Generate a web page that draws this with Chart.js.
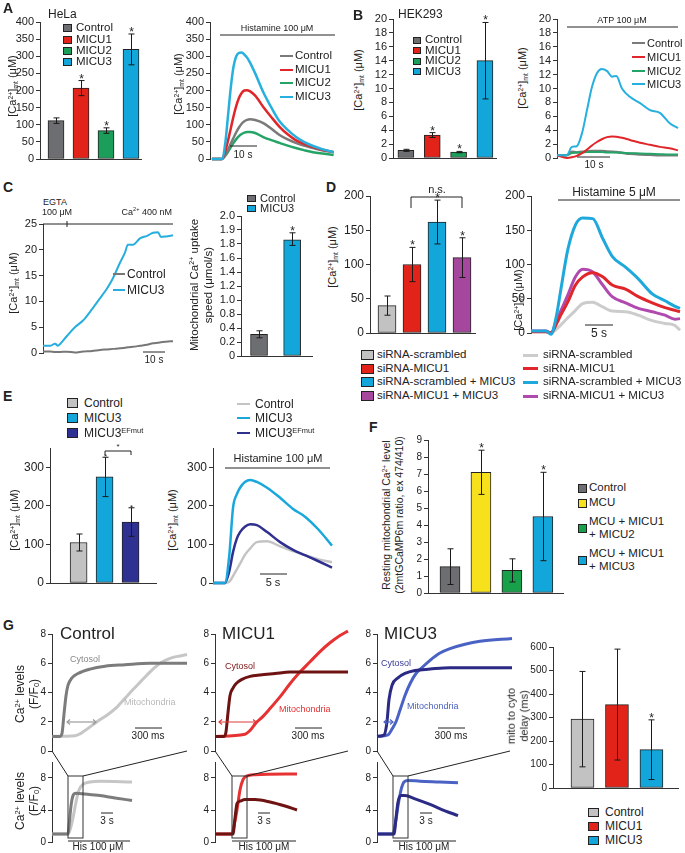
<!DOCTYPE html>
<html>
<head>
<meta charset="utf-8">
<script src="https://cdn.jsdelivr.net/npm/chart.js@4.4.1/dist/chart.umd.min.js"></script>
<style>
html, body { margin: 0; padding: 0; background: #fff; }
#fig { position: relative; width: 685px; height: 853px; overflow: hidden; font-family: 'Liberation Sans', Arial, Helvetica, sans-serif; color: #222; }
#fig canvas { position: absolute; }
.t { position: absolute; white-space: nowrap; line-height: 1; transform: translateY(-50%); }
.c { transform: translate(-50%, -50%); }
.e { transform: translate(-100%, -50%); }
.r { transform: translate(-50%, -50%) rotate(-90deg); text-align: center; line-height: 1.2; }
.L { font-weight: bold; }
.sq { position: absolute; border: 1px solid #222; box-sizing: border-box; }
.ln { position: absolute; }
sup { font-size: 0.62em; vertical-align: 0.55em; line-height: 0; }
sub { font-size: 0.62em; vertical-align: -0.25em; line-height: 0; }
#ann { position: absolute; left: 0; top: 0; z-index: 5; }
</style>
</head>
<body>
<div id="fig"></div>
<script>
// ---------- data ----------
// A  HeLa
const aGroups = ['Control', 'MICU1', 'MICU2', 'MICU3'];
const aPeakMean = [112, 207, 83, 320];
const aPeakErr = [8, 22, 8, 45];
const aStars = [false, true, true, true];
const aTime = [0, 3.7, 5, 6, 7, 8, 9, 10, 11, 12, 13, 14, 16, 19, 22, 25, 28, 31, 34, 37.4, 41, 45];
const aControl = [0, 0, 12, 28, 45, 62, 78, 92, 103, 110, 114, 116, 114, 105, 88, 70, 57, 47, 39, 32, 25, 20];
const aMicu1 = [0, 0, 25, 55, 90, 125, 155, 178, 193, 200, 201, 198, 185, 152, 122, 94, 72, 55, 44, 35, 27, 20];
const aMicu2 = [0, 0, 10, 22, 35, 47, 58, 67, 73, 77, 79, 79, 76, 64, 55, 47, 39, 32, 26, 20, 16, 12];
const aMicu3 = [0, 0, 50, 130, 210, 270, 300, 310, 311, 305, 296, 283, 250, 195, 150, 110, 85, 65, 50, 38, 28, 20];

// B  HEK293
const bGroups = ['Control', 'MICU1', 'MICU2', 'MICU3'];
const bPeakMean = [1.1, 3.3, 0.85, 14];
const bPeakErr = [0.15, 0.35, 0.1, 5.5];
const bStars = [false, true, true, true];
const bTime = [0, 3, 4.5, 6, 7.6, 9.1, 10.6, 12.1, 13.6, 15.2, 16.7, 18, 19.7, 22.1, 25.2, 28.2, 31.2, 34.2, 36.7];
const bControl = [0.4, 0.4, 0.9, 0.8, 0.9, 0.95, 1.0, 1.0, 1.0, 0.95, 0.9, 0.85, 0.75, 0.6, 0.5, 0.45, 0.4, 0.4, 0.4];
const bMicu1 = [0.4, 0.0, 0.1, 0.3, 0.7, 1.2, 1.8, 2.3, 2.7, 3.0, 3.1, 3.05, 2.9, 2.6, 2.2, 1.9, 1.6, 1.4, 1.1];
const bMicu2 = [0.3, 0.4, 0.7, 0.8, 0.8, 0.85, 0.85, 0.85, 0.85, 0.8, 0.8, 0.8, 0.75, 0.7, 0.65, 0.6, 0.55, 0.5, 0.5];
const bMicu3 = [0.4, 0.4, 1.6, 1.7, 3.6, 6.9, 10.2, 12.2, 12.8, 12.5, 11.7, 11.8, 10.0, 8.8, 7.9, 6.9, 6.5, 5.0, 4.3];

// C  permeabilized cells
const cTime = [0, 3.2, 5.5, 6.8, 7.7, 10.9, 14.5, 18.2, 22.3, 25.9, 29.1, 31.8, 35, 37.3, 38.6, 40.9, 44.1, 47.3, 50, 52.3, 53.6, 55.9, 59.1];
const cControl = [0.3, 0.3, 0.2, 0.2, 0.2, 0.25, 0.1, 0.3, 0.4, 0.6, 0.7, 0.8, 0.9, 1.0, 1.1, 1.2, 1.4, 1.6, 1.9, 2.0, 2.1, 2.2, 2.3];
const cMicu3 = [1.4, 1.4, 1.8, 1.4, 1.7, 3.3, 5, 6.3, 8.5, 10.6, 12.5, 14.5, 17.5, 19.5, 21, 21, 22.2, 22.7, 23.3, 23.4, 22.5, 22.6, 22.8];
const cGroups = ['Control', 'MICU3'];
const cSpeedMean = [0.31, 1.83];
const cSpeedErr = [0.05, 0.05];
const cStars = [false, true];
const cSpeedTicks = [0, 0.2, 0.4, 0.8, 1.0, 1.2, 1.4, 1.6, 1.8, 1.9, 2.0];

// D  siRNA
const dGroups = ['siRNA-scrambled', 'siRNA-MICU1', 'siRNA-scrambled + MICU3', 'siRNA-MICU1 + MICU3'];
const dPeakMean = [40, 100, 162, 110];
const dPeakErr = [14, 25, 32, 29];
const dStars = [false, true, true, true];
const dTime = [0, 2.7, 3.6, 4.5, 5.4, 6.6, 8, 9.3, 11.1, 12.9, 14.6, 17, 19.3, 21.8, 24.1, 25.9, 26.8];
const dScrambled = [2, 2, 0, 5, 12, 22, 33, 43, 45, 38, 32, 31, 26, 18, 14, 11, 4];
const dSiMicu1 = [2, 2, 0, 12, 27, 45, 70, 82, 88, 82, 70, 64, 53, 44, 37, 33, 31];
const dScrMicu3 = [3, 3, -2, 22, 65, 121, 158, 168, 167, 138, 112, 96, 79, 57, 47, 39, 36];
const dSiMicu1Micu3 = [3, 3, 0, 16, 33, 55, 82, 93, 89, 70, 53, 44, 36, 31, 26, 20, 21];

// E  EF-hand mutant
const eGroups = ['Control', 'MICU3', 'MICU3<sup>EFmut</sup>'];
const ePeakMean = [105, 275, 158];
const ePeakErr = [22, 51, 37];
const eStars = [false, true, true];
const eTime = [0, 2.2, 3, 3.7, 4.4, 5, 5.9, 6.9, 8.1, 10, 12.4, 14.8, 17, 19.4, 22];
const eControl = [0, 0, 3, 18, 35, 50, 73, 90, 106, 108, 95, 83, 72, 62, 54];
const eMicu3 = [0, 0, 70, 195, 230, 247, 262, 267, 262, 247, 221, 192, 172, 140, 97];
const eEfmut = [0, 0, 30, 80, 115, 132, 146, 152, 150, 132, 106, 86, 72, 57, 40];

// F  resting matrix Ca2+
const fGroups = ['Control', 'MCU', 'MCU + MICU1<br>+ MICU2', 'MCU + MICU1<br>+ MICU3'];
const fRestMean = [1.55, 7.1, 1.33, 4.5];
const fRestErr = [1.05, 1.3, 0.68, 2.6];
const fStars = [false, true, false, true];

// G  cytosol vs mitochondria (top: ms, bottom: s)
const gCtrlCytT = [0, 67, 89, 111, 133, 156, 178, 222, 289, 422, 589, 811, 1089, 1500];
const gCtrlCyt = [1, 1, 1, 1.2, 2.5, 3.8, 4.5, 5, 5.3, 5.6, 5.8, 5.9, 6, 6];
const gCtrlMitT = [0, 256, 367, 500, 622, 722, 811, 900, 978, 1056, 1122, 1200, 1278, 1344, 1422, 1500];
const gCtrlMit = [1, 1.05, 1.4, 2, 2.5, 3, 3.6, 4.2, 4.7, 5.2, 5.6, 6, 6.25, 6.4, 6.5, 6.6];
const gM1CytT = [0, 100, 122, 144, 167, 200, 233, 300, 389, 500, 667, 833, 1478];
const gM1Cyt = [1, 1, 1.3, 2.6, 3.8, 4.3, 4.6, 4.9, 5.1, 5.2, 5.3, 5.4, 5.4];
const gM1MitT = [0, 333, 389, 467, 522, 611, 722, 833, 944, 1056, 1167, 1278, 1389, 1478];
const gM1Mit = [1, 1.15, 1.4, 2, 2.3, 2.9, 3.7, 4.6, 5.4, 6.1, 6.8, 7.4, 7.9, 8.2];
const gM3CytT = [0, 78, 111, 133, 167, 233, 311, 422, 589, 811, 1500];
const gM3Cyt = [1, 1.1, 2, 3.5, 4.5, 5, 5.3, 5.5, 5.6, 5.7, 5.7];
const gM3MitT = [0, 122, 167, 211, 256, 311, 367, 433, 500, 589, 700, 811, 978, 1144, 1500];
const gM3Mit = [1, 1.1, 1.5, 2, 2.8, 3.8, 4.6, 5.3, 5.7, 6.2, 6.7, 7, 7.3, 7.5, 7.7];

const gCtrlLongMitT = [0, 4, 4.5, 5.25, 6, 6.75, 7.75, 9.5, 12, 20];
const gCtrlLongMit = [1, 1, 1.5, 3, 5, 6.5, 7.2, 7.5, 7.6, 7.5];
const gCtrlLongCytT = [0, 4, 4.25, 4.75, 5.25, 6, 8.25, 12, 15.75, 20];
const gCtrlLongCyt = [1, 1, 2, 4.5, 5.8, 6.1, 6, 5.8, 5.5, 5.2];
const gM1LongMitT = [0, 4.25, 4.75, 5.5, 6.25, 7, 7.75, 10, 20.5];
const gM1LongMit = [1, 1, 2, 4, 6.5, 7.8, 8.2, 8.4, 8.5];
const gM1LongCytT = [0, 4.5, 5, 5.5, 6.25, 7.5, 10, 13.75, 17.5, 20.5];
const gM1LongCyt = [1, 1, 3, 4.8, 5.1, 5.3, 5.3, 5, 4.5, 4];
const gM3LongMitT = [0, 4, 4.5, 5.25, 6, 6.75, 7.75, 10.75, 15.75, 20.25];
const gM3LongMit = [1, 1, 2, 4.5, 6.5, 7.5, 7.7, 7.6, 7.5, 7.4];
const gM3LongCytT = [0, 4.25, 4.75, 5.25, 6, 7, 9.5, 13.25, 17, 20.25];
const gM3LongCyt = [1, 1, 3, 5, 5.8, 5.8, 5.4, 4.7, 3.9, 3.3];

const gGroups = ['Control', 'MICU1', 'MICU3'];
const gDelayMean = [293, 355, 163];
const gDelayErr = [203, 236, 127];
const gStars = [false, false, true];

// ---------- colours ----------
const GREY = '#6d6e71', LGREY = '#c2c2c2', RED = '#e2231a', GREEN = '#1b9e5a', CYAN = '#12a6da';
const PURPLE = '#a4479d', NAVY = '#2e3192', YELLOW = '#f6e11c';
const aBarColors = [GREY, RED, GREEN, CYAN];
const aLineColors = ['#7a7a7a', '#e0262a', '#25a468', '#27b0de'];
const dColors = [LGREY, RED, CYAN, PURPLE];
const dLineColors = ['#cccccc', '#e0262a', '#1ea8dc', '#b04aaf'];
const eColors = [LGREY, CYAN, NAVY];
const eLineColors = ['#c4c4c4', '#1aa8dc', '#2e2f8f'];
const fColors = [GREY, YELLOW, '#19a04b', CYAN];
const gColors = [LGREY, RED, CYAN];

// ---------- helpers ----------
const FONT = "'Liberation Sans', Arial, Helvetica, sans-serif";
Chart.defaults.font.family = FONT;
Chart.defaults.color = '#222';
const fig = document.getElementById('fig');

const errorBars = {
    id: 'errorBars',
    afterDatasetsDraw(chart) {
        const ds = chart.data.datasets[0];
        if (!ds || !ds.err) return;
        const ctx = chart.ctx, ys = chart.scales.y, meta = chart.getDatasetMeta(0);
        const f = ds.toAxis || (v => v);
        ctx.save();
        ctx.strokeStyle = '#1a1a1a';
        ctx.lineWidth = 1;
        ctx.fillStyle = '#222';
        ctx.font = (ds.starSize || 12) + 'px ' + FONT;
        ctx.textAlign = 'center';
        meta.data.forEach((bar, i) => {
            const v = ds.means[i], e = ds.err[i];
            const yt = ys.getPixelForValue(f(v + e));
            const yb = ys.getPixelForValue(f(Math.max(v - e, 0)));
            const x = Math.round(bar.x) + 0.5, cap = 3;
            ctx.beginPath();
            ctx.moveTo(x, yb); ctx.lineTo(x, yt);
            ctx.moveTo(x - cap, yt); ctx.lineTo(x + cap, yt);
            ctx.moveTo(x - cap, yb); ctx.lineTo(x + cap, yb);
            ctx.stroke();
            if (ds.stars && ds.stars[i]) ctx.fillText('*', x, yt + 2);
        });
        ctx.restore();
    }
};
Chart.register(errorBars);

function place(g, config) {
    const PT = 10, PB = 10, PR = 4, yw = g.yw || 30;
    const left = g.ax - yw, top = g.top - PT;
    const w = g.right - left + PR, h = g.bottom - top + PB;
    const cv = document.createElement('canvas');
    cv.width = w; cv.height = h;
    cv.style.left = left + 'px';
    cv.style.top = top + 'px';
    fig.appendChild(cv);
    config.options.responsive = false;
    config.options.animation = false;
    config.options.devicePixelRatio = 1;
    config.options.layout = { padding: { top: PT, bottom: PB, right: PR, left: 0 } };
    config.options.plugins = { legend: { display: false }, tooltip: { enabled: false } };
    config.options.scales.y.afterFit = s => { s.width = yw; };
    if (config.options.scales.x.display !== false) config.options.scales.x.afterFit = s => { s.height = 0; };
    return new Chart(cv, config);
}

function yAx(min, max, step, size, keep, label) {
    const ax = {
        type: 'linear', min, max,
        ticks: { stepSize: step, autoSkip: false, font: { size }, color: '#222', padding: 2, callback: label || (v => String(v)) },
        grid: { drawOnChartArea: false, drawTicks: true, tickLength: 4, color: '#333', lineWidth: 1 },
        border: { display: true, color: '#333', width: 1 }
    };
    if (keep) ax.afterBuildTicks = s => { s.ticks = s.ticks.filter(t => keep(t.value)); };
    return ax;
}
function xBar(min, max) {
    return {
        type: 'linear', min, max, offset: false, bounds: 'data',
        ticks: { display: false }, grid: { display: false, drawTicks: false, offset: false },
        border: { display: true, color: '#333', width: 1 }
    };
}
function xLine(min, max) {
    return { type: 'linear', min, max, display: false };
}
function bars(means, err, stars, colors, width, toAxis) {
    const f = toAxis || (v => v);
    return {
        data: means.map((v, i) => ({ x: i, y: f(v) })),
        means, err, stars, toAxis,
        backgroundColor: colors, borderColor: '#222', borderWidth: 1, borderSkipped: false, barThickness: width
    };
}
function trace(t, v, color, w) {
    return {
        data: t.map((x, i) => ({ x, y: v[i] })),
        borderColor: color, borderWidth: w, pointRadius: 0, tension: 0.4,
        cubicInterpolationMode: 'monotone', fill: false, clip: 6
    };
}
function barChart(g, ds, y, xmin, xmax) {
    return place(g, { type: 'bar', data: { datasets: [ds] }, options: { scales: { x: xBar(xmin, xmax), y } } });
}
function lineChart(g, sets, y, xmin, xmax) {
    return place(g, { type: 'line', data: { datasets: sets }, options: { scales: { x: xLine(xmin, xmax), y } } });
}

function text(x, y, html, size, cls, color) {
    const d = document.createElement('div');
    d.className = 't' + (cls ? ' ' + cls : '');
    d.style.left = x + 'px';
    d.style.top = y + 'px';
    d.style.fontSize = size + 'px';
    if (color) d.style.color = color;
    d.innerHTML = html;
    fig.appendChild(d);
}
function boxKey(x, y, w, h, color, label, size, tx) {
    const s = document.createElement('div');
    s.className = 'sq';
    s.style.cssText = `left:${x}px;top:${y - h / 2}px;width:${w}px;height:${h}px;background:${color}`;
    fig.appendChild(s);
    if (label) text(tx, y, label, size);
}
function lineKey(x1, x2, y, color, lw, label, size, tx) {
    const s = document.createElement('div');
    s.className = 'ln';
    s.style.cssText = `left:${x1}px;top:${y - lw / 2}px;width:${x2 - x1}px;height:${lw}px;background:${color}`;
    fig.appendChild(s);
    text(tx, y, label, size);
}
const CAMT = '[Ca<sup>2+</sup>]<sub>mt</sub> (&mu;M)';

// ---------- panel A ----------
barChart({ ax: 40, top: 22, bottom: 159, right: 141, yw: 30 },
    bars(aPeakMean, aPeakErr, aStars, aBarColors, 16), yAx(0, 400, 50, 11), -0.64, 3.4);
lineChart({ ax: 210, top: 22, bottom: 159, right: 335, yw: 30 },
    [trace(aTime, aMicu3, aLineColors[3], 2.5), trace(aTime, aMicu1, aLineColors[1], 2.5),
     trace(aTime, aControl, aLineColors[0], 2.5), trace(aTime, aMicu2, aLineColors[2], 2.5)],
    yAx(0, 400, 50, 11), -0.7, 45.5);

// ---------- panel B ----------
barChart({ ax: 393, top: 19, bottom: 158, right: 496, yw: 26 },
    bars(bPeakMean, bPeakErr, bStars, aBarColors, 16), yAx(0, 20, 2, 11), -0.49, 3.42);
lineChart({ ax: 557, top: 19, bottom: 158, right: 678, yw: 26 },
    [trace(bTime, bMicu3, aLineColors[3], 2), trace(bTime, bMicu1, aLineColors[1], 2),
     trace(bTime, bMicu2, aLineColors[2], 2), trace(bTime, bControl, aLineColors[0], 2.5)],
    yAx(0, 20, 2, 11), 0, 36.7);

// ---------- panel C ----------
lineChart({ ax: 43, top: 224, bottom: 353, right: 173, yw: 26 },
    [trace(cTime, cMicu3, '#27aedc', 2), trace(cTime, cControl, '#777777', 2)],
    yAx(0, 25, 5, 11), 0, 59.1);
// uneven speed axis: labels sit at equal steps
const cToAxis = v => {
    for (let i = 1; i < cSpeedTicks.length; i++) {
        if (v <= cSpeedTicks[i]) return i - 1 + (v - cSpeedTicks[i - 1]) / (cSpeedTicks[i] - cSpeedTicks[i - 1]);
    }
    return cSpeedTicks.length - 1;
};
barChart({ ax: 241, top: 216, bottom: 356, right: 312, yw: 30 },
    bars(cSpeedMean, cSpeedErr, cStars, [GREY, CYAN], 17, cToAxis),
    yAx(0, 10, 1, 11, null, v => cSpeedTicks[v].toFixed(v === 0 ? 0 : 1)), -0.545, 1.6);

// ---------- panel D ----------
barChart({ ax: 370, top: 196, bottom: 333, right: 475, yw: 30 },
    bars(dPeakMean, dPeakErr, dStars, dColors, 18), yAx(0, 200, 50, 12), -0.68, 3.52);
lineChart({ ax: 531, top: 196, bottom: 333, right: 680, yw: 30 },
    [trace(dTime, dScrMicu3, dLineColors[2], 3), trace(dTime, dSiMicu1, dLineColors[1], 3),
     trace(dTime, dSiMicu1Micu3, dLineColors[3], 3), trace(dTime, dScrambled, dLineColors[0], 3)],
    yAx(0, 200, 50, 12), 0, 26.8);

// ---------- panel E ----------
const hundreds = v => v % 100 === 0;
barChart({ ax: 50, top: 448, bottom: 583, right: 156, yw: 30 },
    Object.assign(bars(ePeakMean, ePeakErr, eStars, eColors, 17), { starSize: 8 }), yAx(0, 350, 100, 12, hundreds), -1.1, 2.98);
lineChart({ ax: 213, top: 448, bottom: 583, right: 332, yw: 30 },
    [trace(eTime, eMicu3, eLineColors[1], 2.5), trace(eTime, eEfmut, eLineColors[2], 2.5), trace(eTime, eControl, eLineColors[0], 2.5)],
    yAx(0, 350, 100, 12, hundreds), 0, 22);

// ---------- panel F ----------
barChart({ ax: 428, top: 440, bottom: 593, right: 563, yw: 22 },
    bars(fRestMean, fRestErr, fStars, fColors, 20), yAx(0, 9, 1, 10), -0.71, 3.65);

// ---------- panel G ----------
const gTopY = () => yAx(0, 8, 2, 10);
const gLowY = () => yAx(0, 10, 4, 10, v => v <= 8);
lineChart({ ax: 52, top: 634, bottom: 751, right: 187, yw: 22 },
    [trace(gCtrlCytT, gCtrlCyt, '#7c7c7c', 3), trace(gCtrlMitT, gCtrlMit, '#c6c6c6', 3)], gTopY(), 0, 1500);
lineChart({ ax: 215, top: 634, bottom: 751, right: 348, yw: 22 },
    [trace(gM1CytT, gM1Cyt, '#6e1212', 3), trace(gM1MitT, gM1Mit, '#e63232', 3)], gTopY(), 0, 1478);
lineChart({ ax: 377, top: 634, bottom: 751, right: 512, yw: 22 },
    [trace(gM3CytT, gM3Cyt, '#2b2a85', 3), trace(gM3MitT, gM3Mit, '#4a62c4', 3)], gTopY(), 0, 1500);
lineChart({ ax: 52, top: 762, bottom: 842, right: 132, yw: 22 },
    [trace(gCtrlLongCytT, gCtrlLongCyt, '#7c7c7c', 3), trace(gCtrlLongMitT, gCtrlLongMit, '#c6c6c6', 3)], gLowY(), 0, 20);
lineChart({ ax: 215, top: 762, bottom: 842, right: 297, yw: 22 },
    [trace(gM1LongCytT, gM1LongCyt, '#6e1212', 3), trace(gM1LongMitT, gM1LongMit, '#e63232', 3)], gLowY(), 0, 20.5);
lineChart({ ax: 377, top: 762, bottom: 842, right: 458, yw: 22 },
    [trace(gM3LongCytT, gM3LongCyt, '#2b2a85', 3), trace(gM3LongMitT, gM3LongMit, '#4a62c4', 3)], gLowY(), 0, 20.25);
barChart({ ax: 553, top: 647, bottom: 788, right: 678, yw: 28 },
    bars(gDelayMean, gDelayErr, gStars, gColors, 23), yAx(0, 600, 100, 10), -0.855, 2.77);

// ---------- labels ----------
[['A', 3, 8], ['B', 353, 15], ['C', 3, 187], ['D', 326, 187], ['E', 3, 396], ['F', 369, 427], ['G', 3, 625]]
    .forEach(([l, x, y]) => text(x, y, l, 14, 'L'));
text(48, 14, 'HeLa', 12);
text(398, 14, 'HEK293', 12);

text(13, 86, CAMT, 11, 'r');
text(179, 84, CAMT, 11, 'r');
text(359, 80, CAMT, 11, 'r');
text(523, 78, CAMT, 11, 'r');
text(14, 283, CAMT, 11, 'r');
text(202, 285, 'Mitochondrial Ca<sup>2+</sup> uptake<br>speed (&mu;mol/s)', 11.5, 'r');
text(333, 257, CAMT, 11, 'r');
text(519, 300, CAMT, 11, 'r');
text(15, 520, CAMT, 11, 'r');
text(173, 520, CAMT, 11, 'r');
text(393, 515, 'Resting mitochondrial Ca<sup>2+</sup> level<br>(2mtGCaMP6m ratio, ex 474/410)', 10.5, 'r');
text(27, 694, 'Ca<sup>2+</sup> levels<br>(F/F<sub>0</sub>)', 12, 'r');
text(27, 801, 'Ca<sup>2+</sup> levels<br>(F/F<sub>0</sub>)', 12, 'r');
text(518, 716, 'mito to cyto<br>delay (ms)', 11, 'r');

// legends
[28, 40, 51, 62].forEach((y, i) => boxKey(63, y, 9, 8, aBarColors[i], aGroups[i], 11.5, 76));
[56, 70, 83, 97].forEach((y, i) => lineKey(280, 293, y, aLineColors[i], 2, aGroups[i], 11.5, 295));
[40, 50.5, 61, 71.5].forEach((y, i) => boxKey(413, y, 8, 7, aBarColors[i], bGroups[i], 11.5, 425));
[43, 57, 71, 84].forEach((y, i) => lineKey(632, 645, y, aLineColors[i], 2, bGroups[i], 11, 647));
lineKey(113, 125, 274, '#777777', 2, cGroups[0], 12, 127);
lineKey(113, 125, 290, '#27aedc', 2, cGroups[1], 12, 127);
boxKey(247, 198, 9, 7, GREY, cGroups[0], 11, 260);
boxKey(247, 208, 9, 7, CYAN, cGroups[1], 11, 260);
[355, 368.5, 382, 396].forEach((y, i) => boxKey(361, y, 13, 10, dColors[i], dGroups[i], 11.5, 377));
[355, 368.5, 382, 396].forEach((y, i) => lineKey(523, 538, y, dLineColors[i], 3, dGroups[i], 11.5, 543));
[403, 418, 433].forEach((y, i) => boxKey(67, y, 11, 10, eColors[i], eGroups[i], 12, 84));
[404, 418, 433].forEach((y, i) => lineKey(237, 250, y, eLineColors[i], 2.5, eGroups[i], 12, 255));
[[488, 488], [503, 503], [528, 527.5], [560, 560]].forEach(([sy, ty], i) => {
    boxKey(578, sy, 9, 9, fColors[i], '', 0, 0);
    const d = document.createElement('div');
    d.className = 't';
    d.style.cssText = `left:589px;top:${ty}px;font-size:11.5px;line-height:1.15`;
    d.innerHTML = fGroups[i];
    fig.appendChild(d);
});
[812, 826, 840].forEach((y, i) => boxKey(588, y, 11, 9, gColors[i], gGroups[i], 12, 605));

// stimuli, scale bars, notes
text(277, 28, 'Histamine 100 &mu;M', 9, 'c');
text(243, 155, '10 s', 10, 'c');
text(622, 20, 'ATP 100 &mu;M', 9, 'c');
text(594, 165, '10 s', 10, 'c');
text(55, 202, 'EGTA', 9, 'c');
text(57, 212, '100 &mu;M', 9, 'c');
text(172, 212, 'Ca<sup>2+</sup> 400 nM', 9, 'e');
text(154, 360, '10 s', 10, 'c');
text(614, 192, 'Histamine 5 &mu;M', 12, 'c');
text(599, 333, '5 s', 12, 'c');
text(437, 189, 'n.s.', 11, 'c');
text(278, 458, 'Histamine 100 &mu;M', 11, 'c');
text(273, 582, '5 s', 11, 'c');
text(118, 447, '*', 8, 'c');
text(60, 633, 'Control', 17);
text(222, 633, 'MICU1', 17);
text(384, 633, 'MICU3', 17);
text(70, 659, 'Cytosol', 9, '', '#888888');
text(124, 702, 'Mitochondria', 9, '', '#b8b8b8');
text(225, 666, 'Cytosol', 9, '', '#7a1515');
text(279, 709, 'Mitochondria', 9, '', '#e03030');
text(381, 663, 'Cytosol', 9, '', '#3a3a99');
text(407, 706, 'Mitochondria', 9, '', '#4a60c0');
[148, 308, 451].forEach(x => text(x, 736, '300 ms', 10, 'c'));
[107, 264, 426].forEach(x => text(x, 821, '3 s', 10, 'c'));
[98, 264, 424].forEach(x => text(x, 847, 'His 100 &mu;M', 10, 'c'));

// annotation lines
const segs = [
    [220, 35, 335, 35], [230, 146, 257, 146], [567, 27, 678, 27], [577, 157, 610, 157],
    [43, 224, 173, 224], [67, 221, 67, 227], [143, 352, 165, 352],
    [558, 200, 680, 200], [585, 325, 613, 325],
    [411, 208, 411, 197], [411, 197, 462, 197], [462, 197, 462, 208],
    [225, 468, 330, 468], [260, 574, 287, 574],
    [105, 455, 105, 451], [105, 451, 131, 451], [131, 451, 131, 455],
    [135, 728, 162, 728], [295, 728, 322, 728], [438, 728, 465, 728],
    [101, 813, 113, 813], [258, 813, 270, 813], [420, 813, 432, 813],
    [68, 841, 130, 841], [232, 841, 296, 841], [393, 841, 456, 841],
    [68, 776, 52, 751], [83, 776, 187, 751], [232, 776, 215, 751], [247, 776, 348, 751],
    [393, 776, 377, 751], [408, 776, 510, 751]
];
const arrows = [[67, 96, '#9a9a9a'], [219, 256, '#e03a3a'], [384, 393, '#4a62c4']];
let svg = '<svg id="ann" width="685" height="853" xmlns="http://www.w3.org/2000/svg">';
segs.forEach(([x1, y1, x2, y2]) => { svg += `<line x1="${x1}" y1="${y1}" x2="${x2}" y2="${y2}" stroke="#222" stroke-width="1"/>`; });
[[68, 776], [232, 776], [393, 776]].forEach(([x, y]) => { svg += `<rect x="${x}" y="${y}" width="15" height="62" fill="none" stroke="#333" stroke-width="1"/>`; });
arrows.forEach(([a, b, c]) => {
    svg += `<line x1="${a}" y1="722" x2="${b}" y2="722" stroke="${c}" stroke-width="1.2"/>`;
    svg += `<polyline points="${a + 3},719.5 ${a},722 ${a + 3},724.5" fill="none" stroke="${c}" stroke-width="1.2"/>`;
    svg += `<polyline points="${b - 3},719.5 ${b},722 ${b - 3},724.5" fill="none" stroke="${c}" stroke-width="1.2"/>`;
});
svg += '</svg>';
fig.insertAdjacentHTML('beforeend', svg);
</script>
</body>
</html>
